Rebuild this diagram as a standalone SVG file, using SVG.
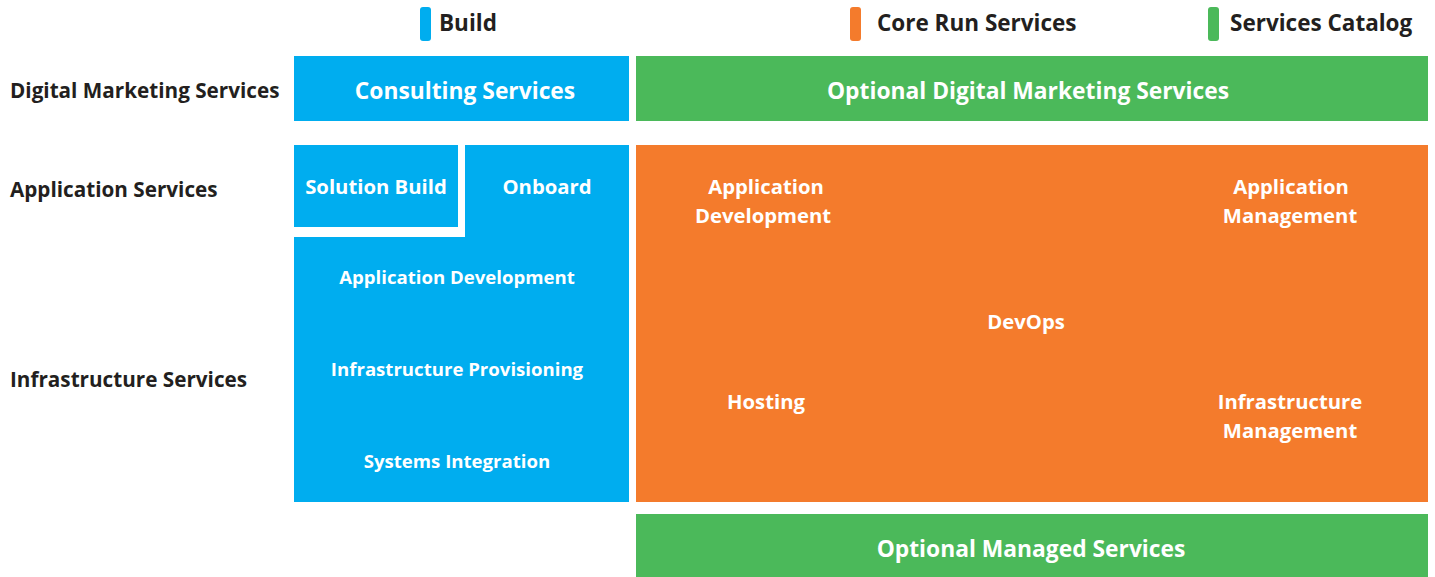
<svg xmlns="http://www.w3.org/2000/svg" width="1435" height="577" viewBox="0 0 1435 577">
<style>
text{font-family:"Open Sans","Noto Sans","Liberation Sans",sans-serif;font-weight:700}
.lbl{fill:#231f20;font-size:20.7px}
.leg{fill:#231f20;font-size:22.5px}
.w{fill:#ffffff;text-anchor:middle}
.big{font-size:22.8px}
.md{font-size:20.3px}
.sm{font-size:18.6px}
.blue{fill:#00adef}
.orange{fill:#f47b2c}
.green{fill:#4bb95a}
</style>
<rect width="1435" height="577" fill="#ffffff"/>
<g id="legend">
<rect class="blue" x="420" y="7" width="11" height="34" rx="3"/>
<text class="leg" x="439" y="31">Build</text>
<rect class="orange" x="850" y="7" width="11" height="34" rx="3"/>
<text class="leg" x="877" y="31">Core Run Services</text>
<rect class="green" x="1208" y="7" width="11" height="34" rx="3"/>
<text class="leg" x="1230" y="31">Services Catalog</text>
</g>
<g id="row-labels">
<text class="lbl" x="10" y="98">Digital Marketing Services</text>
<text class="lbl" x="10" y="197">Application Services</text>
<text class="lbl" x="10" y="387">Infrastructure Services</text>
</g>
<g id="consulting">
<rect class="blue" x="294" y="56" width="335" height="65"/>
<text class="w big" x="465" y="99">Consulting Services</text>
</g>
<g id="optional-digital">
<rect class="green" x="636" y="56" width="792" height="65"/>
<text class="w big" x="1028" y="99">Optional Digital Marketing Services</text>
</g>
<g id="solution-build">
<rect class="blue" x="294" y="145" width="164" height="82"/>
<text class="w md" x="376" y="194">Solution Build</text>
</g>
<g id="build-main">
<path class="blue" d="M465 145 H629 V502 H294 V237 H465 Z"/>
<text class="w md" x="547" y="194">Onboard</text>
<text class="w sm" x="457" y="284">Application Development</text>
<text class="w sm" x="457" y="376">Infrastructure Provisioning</text>
<text class="w sm" x="457" y="468">Systems Integration</text>
</g>
<g id="core-run">
<rect class="orange" x="636" y="145" width="792" height="357"/>
<text class="w md" x="766" y="194">Application</text>
<text class="w md" x="763" y="223">Development</text>
<text class="w md" x="1291" y="194">Application</text>
<text class="w md" x="1290" y="223">Management</text>
<text class="w md" x="1026" y="329">DevOps</text>
<text class="w md" x="766" y="409">Hosting</text>
<text class="w md" x="1290" y="409">Infrastructure</text>
<text class="w md" x="1290" y="438">Management</text>
</g>
<g id="optional-managed">
<rect class="green" x="636" y="514" width="792" height="63"/>
<text class="w big" x="1031" y="557">Optional Managed Services</text>
</g>
<g id="connectors"></g>
</svg>
